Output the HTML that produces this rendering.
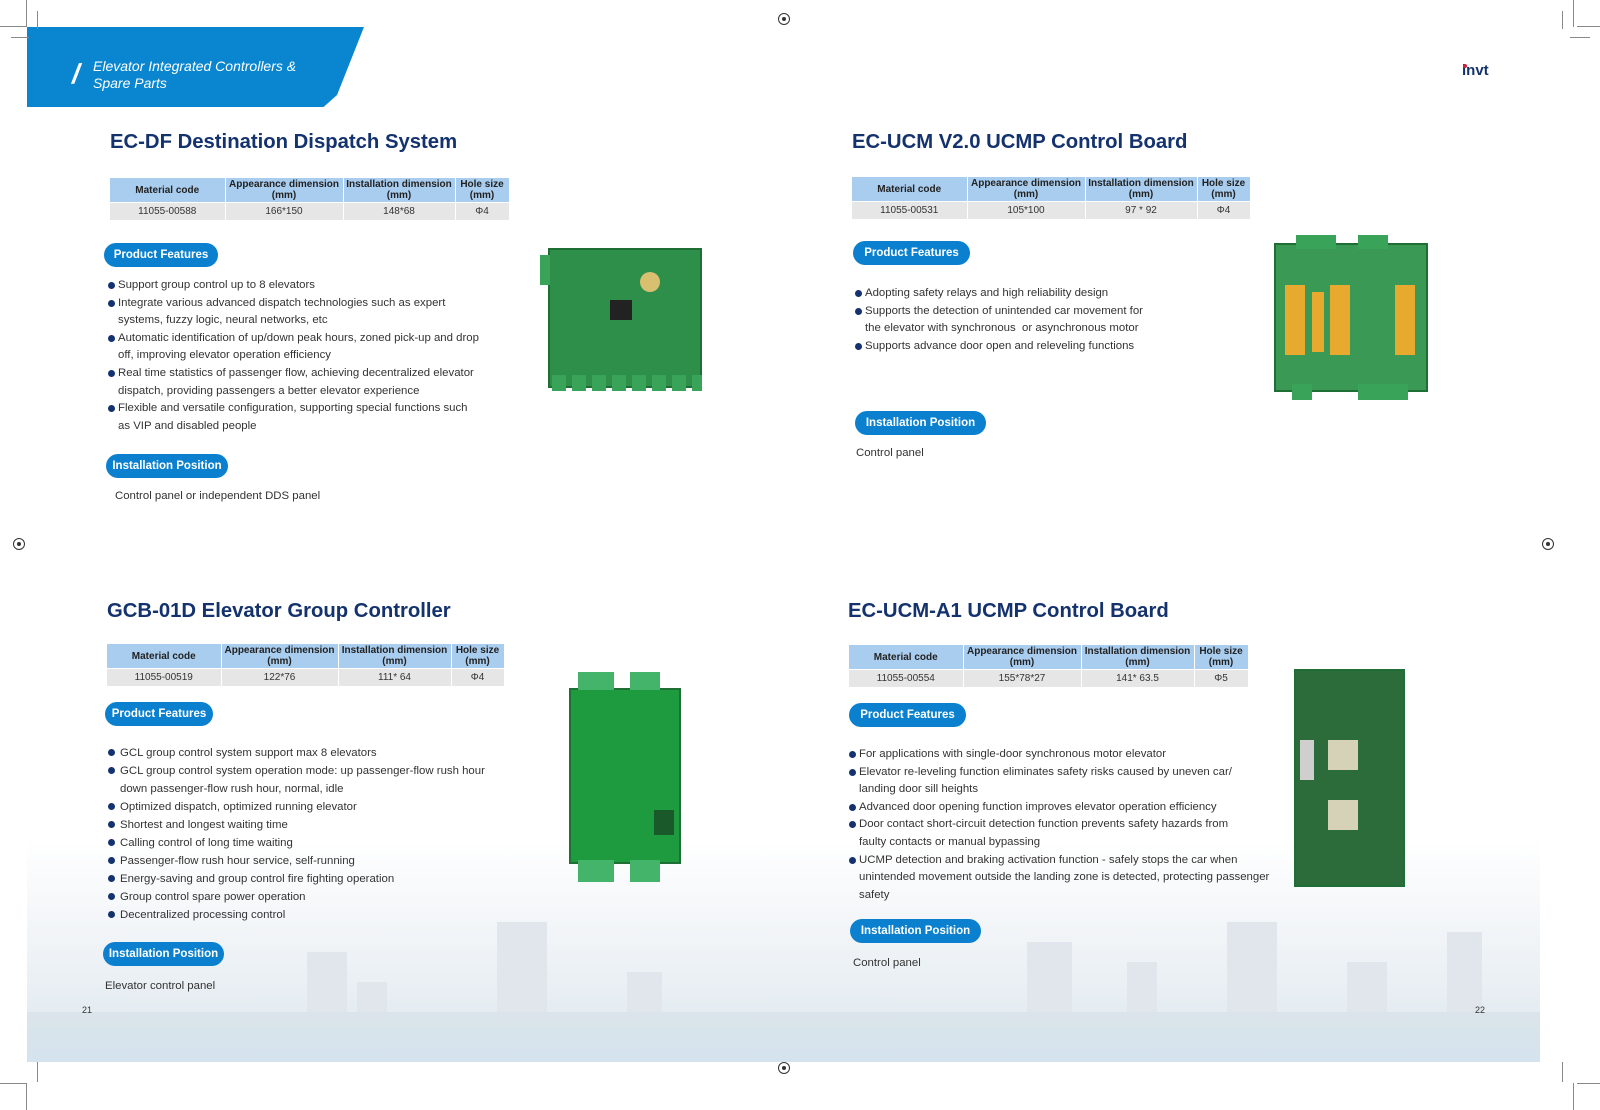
<!DOCTYPE html>
<html><head><meta charset="utf-8"><style>
body{margin:0;width:1600px;height:1110px;position:relative;background:#fff;font-family:"Liberation Sans",sans-serif;overflow:hidden}
.a{position:absolute}
.city{left:27px;top:840px;width:1513px;height:222px;background:linear-gradient(180deg,rgba(255,255,255,1) 0%,#f2f5f8 40%,#e6edf2 75%,#d9e5ee 100%)}
.bld{position:absolute;bottom:0;background:#e0e6eb}
.banner{left:27px;top:27px;width:337px;height:80px;background:#0a86d0;clip-path:polygon(0 0,100% 0,92% 85%,88% 100%,0 100%)}
.bt{left:93px;top:58px;color:#fff;font-style:italic;font-size:14px;line-height:17px}
h1{position:absolute;margin:0;font-size:20.3px;color:#14326e;font-weight:bold;white-space:nowrap}
table{position:absolute;border-collapse:collapse;font-size:10px;color:#333;table-layout:fixed}
th{background:#a9cdef;font-weight:bold;height:24px;line-height:11px;padding:0;border-right:1px solid #fff;text-align:center;color:#222}
td{background:#e6e6e6;height:17px;padding:0;text-align:center;border-right:1px solid #fff;border-top:1px solid #fff}
.pill{position:absolute;background:#0a80cf;color:#fff;font-weight:bold;font-size:11.5px;border-radius:13px;text-align:center;line-height:24px;height:24px}
ul{position:absolute;margin:0;padding:0;list-style:none;font-size:11.4px;color:#333}
li{position:relative;padding-left:10px}
li:before{content:"";position:absolute;left:0;top:5px;width:7px;height:7px;border-radius:50%;background:#14326e}
.t{position:absolute;font-size:11.4px;color:#333}
.brd{position:absolute;background:#2d8f4a;border:2px solid #1e6e36}
.reg{position:absolute;width:10px;height:10px;border:1px solid #333;border-radius:50%}
.reg:after{content:"";position:absolute;left:3px;top:3px;width:4px;height:4px;background:#333;border-radius:50%}
.cm{position:absolute;background:#888}
</style></head><body>
<div class="a city">
<div class="bld" style="left:280px;width:40px;height:110px"></div>
<div class="bld" style="left:330px;width:30px;height:80px"></div>
<div class="bld" style="left:470px;width:50px;height:140px"></div>
<div class="bld" style="left:600px;width:35px;height:90px"></div>
<div class="bld" style="left:1000px;width:45px;height:120px"></div>
<div class="bld" style="left:1100px;width:30px;height:100px"></div>
<div class="bld" style="left:1200px;width:50px;height:140px"></div>
<div class="bld" style="left:1320px;width:40px;height:100px"></div>
<div class="bld" style="left:1420px;width:35px;height:130px"></div>
<div class="bld" style="left:0;width:1513px;height:50px;background:linear-gradient(180deg,#dbe4ea,#d4e3ee)"></div>
</div>
<div class="a banner"></div>
<div class="a" style="left:72px;top:60px;color:#fff;font-size:28px;font-style:italic;font-weight:bold;line-height:28px">/</div>
<div class="a bt">Elevator Integrated Controllers &amp;<br>Spare Parts</div>
<div class="a" style="left:1462px;top:62px;font-weight:bold;font-size:15px;color:#14326e">invt</div>
<div class="a" style="left:1463px;top:64px;width:4px;height:4px;background:#d0213a;border-radius:50%"></div>

<h1 style="left:110px;top:131px">EC-DF Destination Dispatch System</h1>
<h1 style="left:852px;top:131px">EC-UCM V2.0 UCMP Control Board</h1>
<h1 style="left:107px;top:600px">GCB-01D Elevator Group Controller</h1>
<h1 style="left:848px;top:600px">EC-UCM-A1 UCMP Control Board</h1>

<table style="left:110px;top:178px;width:399px"><colgroup><col style="width:115px"><col style="width:118px"><col style="width:112px"><col style="width:54px"></colgroup>
<tr><th>Material code</th><th>Appearance dimension<br>(mm)</th><th>Installation dimension<br>(mm)</th><th>Hole size<br>(mm)</th></tr>
<tr><td>11055-00588</td><td>166*150</td><td>148*68</td><td>Φ4</td></tr></table>
<table style="left:852px;top:177px;width:398px"><colgroup><col style="width:115px"><col style="width:118px"><col style="width:112px"><col style="width:53px"></colgroup>
<tr><th>Material code</th><th>Appearance dimension<br>(mm)</th><th>Installation dimension<br>(mm)</th><th>Hole size<br>(mm)</th></tr>
<tr><td>11055-00531</td><td>105*100</td><td>97 * 92</td><td>Φ4</td></tr></table>
<table style="left:107px;top:644px;width:397px"><colgroup><col style="width:114px"><col style="width:117px"><col style="width:113px"><col style="width:53px"></colgroup>
<tr><th>Material code</th><th>Appearance dimension<br>(mm)</th><th>Installation dimension<br>(mm)</th><th>Hole size<br>(mm)</th></tr>
<tr><td>11055-00519</td><td>122*76</td><td>111* 64</td><td>Φ4</td></tr></table>
<table style="left:849px;top:645px;width:399px"><colgroup><col style="width:114px"><col style="width:118px"><col style="width:113px"><col style="width:54px"></colgroup>
<tr><th>Material code</th><th>Appearance dimension<br>(mm)</th><th>Installation dimension<br>(mm)</th><th>Hole size<br>(mm)</th></tr>
<tr><td>11055-00554</td><td>155*78*27</td><td>141* 63.5</td><td>Φ5</td></tr></table>

<div class="pill" style="left:104px;top:243px;width:114px">Product Features</div>
<div class="pill" style="left:106px;top:454px;width:122px">Installation Position</div>
<div class="pill" style="left:853px;top:241px;width:117px">Product Features</div>
<div class="pill" style="left:855px;top:411px;width:131px">Installation Position</div>
<div class="pill" style="left:105px;top:702px;width:108px">Product Features</div>
<div class="pill" style="left:103px;top:942px;width:121px">Installation Position</div>
<div class="pill" style="left:849px;top:703px;width:117px">Product Features</div>
<div class="pill" style="left:850px;top:919px;width:131px">Installation Position</div>

<ul style="left:108px;top:277px;line-height:17.6px;width:420px">
<li>Support group control up to 8 elevators</li>
<li>Integrate various advanced dispatch technologies such as expert<br>systems, fuzzy logic, neural networks, etc</li>
<li>Automatic identification of up/down peak hours, zoned pick-up and drop<br>off, improving elevator operation efficiency</li>
<li>Real time statistics of passenger flow, achieving decentralized elevator<br>dispatch, providing passengers a better elevator experience</li>
<li>Flexible and versatile configuration, supporting special functions such<br>as VIP and disabled people</li></ul>
<div class="t" style="left:115px;top:490px">Control panel or independent DDS panel</div>

<ul style="left:855px;top:285px;line-height:17.6px;width:400px">
<li>Adopting safety relays and high reliability design</li>
<li>Supports the detection of unintended car movement for<br>the elevator with synchronous &nbsp;or asynchronous motor</li>
<li>Supports advance door open and releveling functions</li></ul>
<div class="t" style="left:856px;top:447px">Control panel</div>

<ul style="left:108px;top:744px;line-height:18px;width:420px">
<li style="padding-left:12px">GCL group control system support max 8 elevators</li>
<li style="padding-left:12px">GCL group control system operation mode: up passenger-flow rush hour<br>down passenger-flow rush hour, normal, idle</li>
<li style="padding-left:12px">Optimized dispatch, optimized running elevator</li>
<li style="padding-left:12px">Shortest and longest waiting time</li>
<li style="padding-left:12px">Calling control of long time waiting</li>
<li style="padding-left:12px">Passenger-flow rush hour service, self-running</li>
<li style="padding-left:12px">Energy-saving and group control fire fighting operation</li>
<li style="padding-left:12px">Group control spare power operation</li>
<li style="padding-left:12px">Decentralized processing control</li></ul>
<div class="t" style="left:105px;top:980px">Elevator control panel</div>

<ul style="left:849px;top:746px;line-height:17.6px;width:440px">
<li>For applications with single-door synchronous motor elevator</li>
<li>Elevator re-leveling function eliminates safety risks caused by uneven car/<br>landing door sill heights</li>
<li>Advanced door opening function improves elevator operation efficiency</li>
<li>Door contact short-circuit detection function prevents safety hazards from<br>faulty contacts or manual bypassing</li>
<li>UCMP detection and braking activation function - safely stops the car when<br>unintended movement outside the landing zone is detected, protecting passenger<br>safety</li></ul>
<div class="t" style="left:853px;top:957px">Control panel</div>

<div class="brd" style="left:548px;top:248px;width:150px;height:136px"></div>
<div class="a" style="left:540px;top:255px;width:10px;height:30px;background:#3aa35a"></div>
<div class="a" style="left:552px;top:375px;width:150px;height:16px;background:repeating-linear-gradient(90deg,#3aa35a 0 14px,transparent 14px 20px)"></div>
<div class="a" style="left:610px;top:300px;width:22px;height:20px;background:#222"></div>
<div class="a" style="left:640px;top:272px;width:20px;height:20px;background:#d8c070;border-radius:50%"></div>

<div class="brd" style="left:1274px;top:243px;width:150px;height:145px;background:#3a9a55"></div>
<div class="a" style="left:1296px;top:235px;width:40px;height:14px;background:#3aa35a"></div>
<div class="a" style="left:1358px;top:235px;width:30px;height:14px;background:#3aa35a"></div>
<div class="a" style="left:1292px;top:384px;width:20px;height:16px;background:#3aa35a"></div>
<div class="a" style="left:1358px;top:384px;width:50px;height:16px;background:#3aa35a"></div>
<div class="a" style="left:1285px;top:285px;width:20px;height:70px;background:#e7a92e"></div>
<div class="a" style="left:1312px;top:292px;width:12px;height:60px;background:#e7a92e"></div>
<div class="a" style="left:1330px;top:285px;width:20px;height:70px;background:#e7a92e"></div>
<div class="a" style="left:1395px;top:285px;width:20px;height:70px;background:#e7a92e"></div>

<div class="brd" style="left:569px;top:688px;width:108px;height:172px;background:#1e9b3e"></div>
<div class="a" style="left:578px;top:672px;width:36px;height:18px;background:#43b469"></div>
<div class="a" style="left:630px;top:672px;width:30px;height:18px;background:#43b469"></div>
<div class="a" style="left:578px;top:860px;width:36px;height:22px;background:#43b469"></div>
<div class="a" style="left:630px;top:860px;width:30px;height:22px;background:#43b469"></div>
<div class="a" style="left:654px;top:810px;width:20px;height:25px;background:#1a5a2a"></div>

<div class="brd" style="left:1294px;top:669px;width:107px;height:214px;background:#2c6b3a"></div>
<div class="a" style="left:1328px;top:740px;width:30px;height:30px;background:#d6d2b8"></div>
<div class="a" style="left:1328px;top:800px;width:30px;height:30px;background:#d6d2b8"></div>
<div class="a" style="left:1300px;top:740px;width:14px;height:40px;background:#cfcfcf"></div>

<div class="t" style="left:82px;top:1005px;font-size:9px">21</div>
<div class="t" style="left:1475px;top:1005px;font-size:9px">22</div>
<div class="reg" style="left:778px;top:13px"></div>
<div class="reg" style="left:13px;top:538px"></div>
<div class="reg" style="left:1542px;top:538px"></div>
<div class="reg" style="left:778px;top:1062px"></div>
<div class="cm" style="left:26px;top:0;width:1px;height:27px"></div>
<div class="cm" style="left:37px;top:11px;width:1px;height:18px"></div>
<div class="cm" style="left:0;top:26px;width:27px;height:1px"></div>
<div class="cm" style="left:11px;top:37px;width:18px;height:1px"></div>
<div class="cm" style="left:1573px;top:0;width:1px;height:27px"></div>
<div class="cm" style="left:1562px;top:11px;width:1px;height:18px"></div>
<div class="cm" style="left:1577px;top:26px;width:23px;height:1px"></div>
<div class="cm" style="left:1570px;top:37px;width:20px;height:1px"></div>
<div class="cm" style="left:26px;top:1083px;width:1px;height:27px"></div>
<div class="cm" style="left:37px;top:1062px;width:1px;height:20px"></div>
<div class="cm" style="left:0;top:1083px;width:27px;height:1px"></div>
<div class="cm" style="left:1573px;top:1083px;width:1px;height:27px"></div>
<div class="cm" style="left:1562px;top:1062px;width:1px;height:20px"></div>
<div class="cm" style="left:1577px;top:1083px;width:23px;height:1px"></div>
</body></html>
